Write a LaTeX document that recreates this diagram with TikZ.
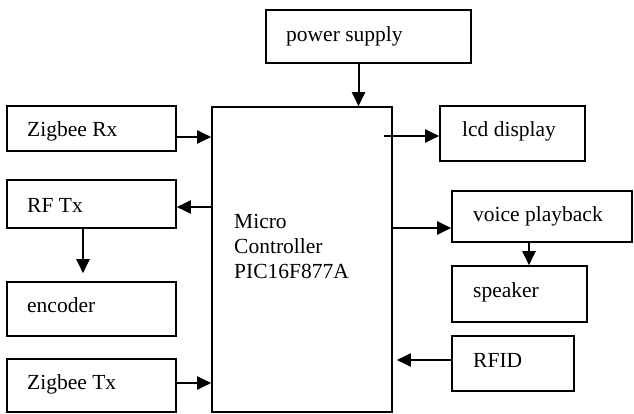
\documentclass[tikz,border=0pt]{standalone}
\usepackage{fontspec}
\setmainfont{Liberation Serif}
\usetikzlibrary{arrows.meta, positioning, calc}

\begin{document}
\begin{tikzpicture}[x=1pt, y=-1pt,
  blk/.style={draw, line width=1.6pt, inner sep=0pt},
  lbl/.style={anchor=base west, inner sep=0pt, font=\fontsize{21.5}{25}\selectfont},
  arr/.style={line width=2pt, -{Triangle[length=14pt, width=13pt]}}]
\useasboundingbox (0,0) rectangle (634,414);

% Blocks
\node[blk, minimum width=180pt, minimum height=305pt] (mcu) at (302,259.5) {};
\node[lbl, align=left] (mcu-t) at (234,278) {Micro\\Controller\\PIC16F877A};

\node[blk, minimum width=205pt, minimum height=53pt] (psu) at (368.5,36.5) {};
\node[lbl] (psu-t) at (286,42) {power supply};

\node[blk, minimum width=169pt, minimum height=45pt] (zrx) at (91.5,128.5) {};
\node[lbl] (zrx-t) at (27,137) {Zigbee Rx};

\node[blk, minimum width=169pt, minimum height=48pt] (rftx) at (91.5,204) {};
\node[lbl] (rftx-t) at (27,212) {RF Tx};

\node[blk, minimum width=169pt, minimum height=54pt] (enc) at (91.5,309) {};
\node[lbl] (enc-t) at (27,312) {encoder};

\node[blk, minimum width=169pt, minimum height=53pt] (ztx) at (91.5,385.5) {};
\node[lbl] (ztx-t) at (27,389) {Zigbee Tx};

\node[blk, minimum width=145pt, minimum height=55pt] (lcd) at (512.5,133.5) {};
\node[lbl] (lcd-t) at (462,137) {lcd display};

\node[blk, minimum width=180pt, minimum height=51pt] (voice) at (542,216.5) {};
\node[lbl] (voice-t) at (473,222) {voice playback};

\node[blk, minimum width=135pt, minimum height=56pt] (spk) at (519.5,294) {};
\node[lbl] (spk-t) at (473,297) {speaker};

\node[blk, minimum width=122pt, minimum height=55pt] (rfid) at (513,363.5) {};
\node[lbl] (rfid-t) at (473,367) {RFID};

% Arrow ends
\coordinate (psu-o) at ([xshift=-10pt]psu.south);
\coordinate (zrx-o) at ([yshift=-8.5pt]zrx.east);
\coordinate (lcd-i) at ([yshift=-2.5pt]lcd.west);
\coordinate (rftx-i) at ([yshift=-3pt]rftx.east);
\coordinate (rftx-o) at ([xshift=-8.5pt]rftx.south);
\coordinate (voice-i) at ([yshift=-11.5pt]voice.west);
\coordinate (voice-o) at ([xshift=-13pt]voice.south);
\coordinate (rfid-o) at ([yshift=3.5pt]rfid.west);
\coordinate (ztx-o) at ([yshift=2.5pt]ztx.east);

% Connections
\draw[arr] (psu-o) -- (psu-o |- mcu.north);
\draw[arr] (zrx-o) -- (mcu.west |- zrx-o);
\draw[arr] ([xshift=-9pt]mcu.east |- lcd-i) -- (lcd-i);
\draw[arr] (mcu.west |- rftx-i) -- (rftx-i);
\draw[arr] (rftx-o) -- ([yshift=8pt]rftx-o |- enc.north);
\draw[arr] (mcu.east |- voice-i) -- (voice-i);
\draw[arr] (voice-o) -- (voice-o |- spk.north);
\draw[arr] (rfid-o) -- ([xshift=4pt]mcu.east |- rfid-o);
\draw[arr] (ztx-o) -- (mcu.west |- ztx-o);
\end{tikzpicture}
\end{document}
